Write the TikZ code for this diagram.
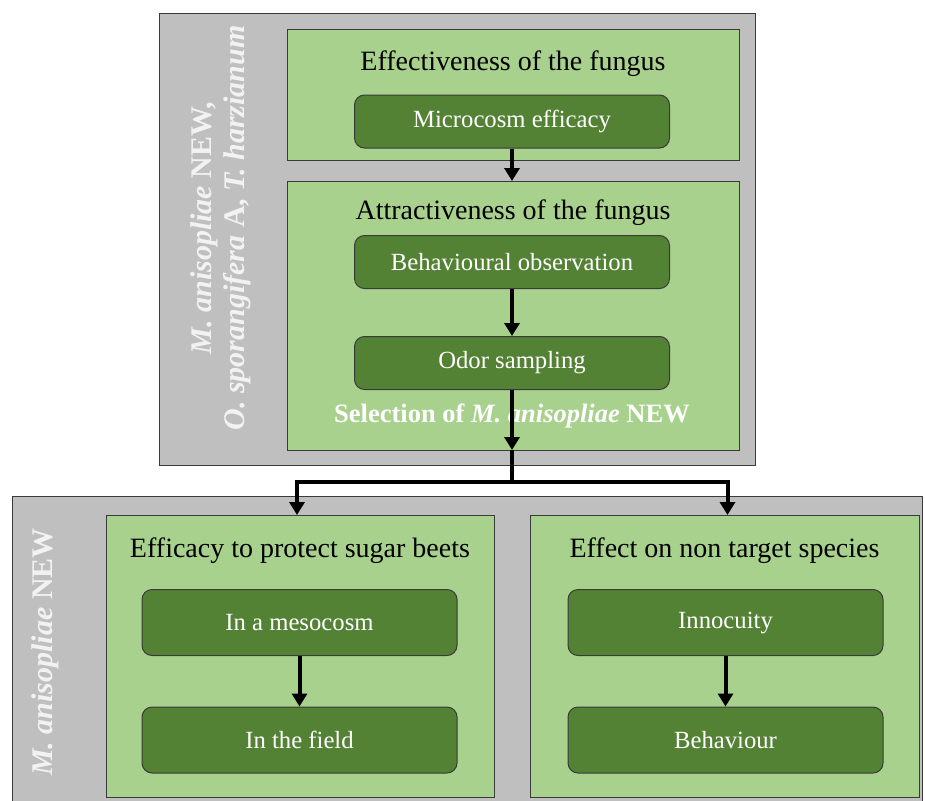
\documentclass[tikz,border=0pt]{standalone}
\usepackage{fontspec}
\setmainfont{Liberation Serif}
\usetikzlibrary{arrows.meta}
\definecolor{boxgray}{HTML}{BFBFBF}
\definecolor{lightgreen}{HTML}{A9D18E}
\definecolor{darkgreen}{HTML}{548235}
\definecolor{edgegray}{HTML}{3A3A3A}

\begin{document}
\begin{tikzpicture}[x=1pt, y=-1pt,
  outer/.style={draw=edgegray, fill=boxgray, line width=1pt, inner sep=0pt, outer sep=0pt},
  panel/.style={draw=edgegray, fill=lightgreen, line width=1pt, inner sep=0pt, outer sep=0pt},
  task/.style={draw=edgegray, fill=darkgreen, rounded corners=10pt, line width=1pt,
    minimum width=315pt, text=white, font=\fontsize{24.7}{28}\selectfont},
  heading/.style={font=\fontsize{28}{32}\selectfont},
  species/.style={rotate=90, align=center, text=white!95!black, font=\fontsize{30}{33}\selectfont\bfseries\itshape},
  flow/.style={line width=4pt, -{Triangle[width=15pt,length=13pt]}}]
  \useasboundingbox (0,0) rectangle (925,800);
  \clip (0,0) rectangle (925,800);

  % Screening stage
  \node[outer, minimum width=596pt, minimum height=451pt] (screen) at (457,239.5) {};
  \node[species] (screenlbl) at (221,228) {M. anisopliae \bfseries\upshape NEW,\\O. sporangifera \bfseries\upshape A, \bfseries\itshape T. harzianum};
  \node[panel, minimum width=452pt, minimum height=130pt] (effect) at (513,95) {};
  \node[heading] (effecttxt) at (513,64) {Effectiveness of the fungus};
  \node[task, minimum height=53pt] (micro) at (512,121.5) {Microcosm efficacy};
  \node[panel, minimum width=452pt, minimum height=269pt] (attract) at (513,315.5) {};
  \node[heading] (attracttxt) at (513,213) {Attractiveness of the fungus};
  \node[task, minimum height=53pt] (behav) at (512,262) {Behavioural observation};
  \node[task, minimum height=53pt] (odor) at (512,363) {Odor sampling};
  \node[text=white, font=\fontsize{26.5}{30}\selectfont\bfseries] (select) at (512,416)
    {Selection of \itshape M. anisopliae \upshape NEW};

  % Validation stage
  \node[outer, minimum width=910pt, minimum height=320pt] (valid) at (467,656) {};
  \node[species] (validlbl) at (45,652) {M. anisopliae \bfseries\upshape NEW};
  \node[panel, minimum width=388pt, minimum height=282pt] (efficacy) at (300,656) {};
  \node[heading] (efficacytxt) at (300,551) {Efficacy to protect sugar beets};
  \node[task, minimum height=66pt] (meso) at (299.5,622.5) {In a mesocosm};
  \node[task, minimum height=66pt] (field) at (299.5,740) {In the field};
  \node[panel, minimum width=389pt, minimum height=282pt] (nontarget) at (724.5,656) {};
  \node[heading] (nontargettxt) at (724.5,551) {Effect on non target species};
  \node[task, minimum height=66pt] (innoc) at (725.5,622.5) {Innocuity};
  \node[task, minimum height=66pt] (behaviour) at (725.5,740) {Behaviour};

  % Arrows
  \draw[flow] (micro.south) -- (micro.south |- attract.north);
  \draw[flow] (behav) -- (odor);
  \draw[flow] (odor.south) -- (odor.south |- attract.south);
  \coordinate (split) at (512,482);
  \draw[line width=4pt] (odor.south |- attract.south) -- (split);
  \draw[flow] (split) -| ([xshift=-3pt]efficacy.north);
  \draw[flow] (split) -| ([xshift=3pt]nontarget.north);
  \draw[flow] (meso) -- (field);
  \draw[flow] (innoc) -- (behaviour);
\end{tikzpicture}
\end{document}
